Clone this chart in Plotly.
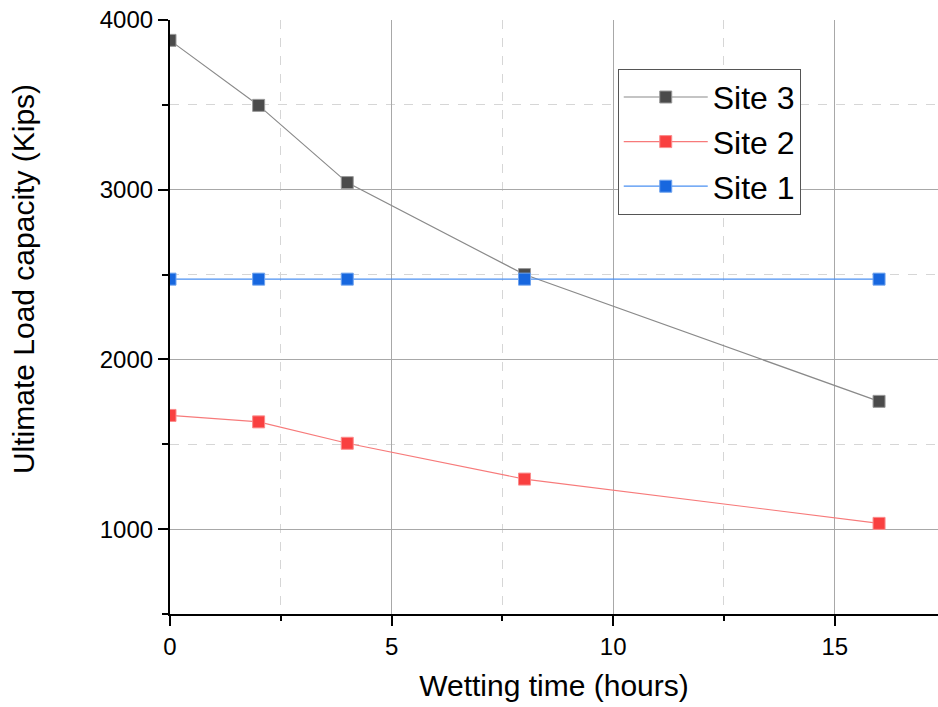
import plotly.graph_objects as go

# Wetting time (hours) and ultimate load capacity (kips) per site
wetting_time = [0, 2, 4, 8, 16]
site3 = [3880, 3497, 3042, 2500, 1753]
site2 = [1670, 1632, 1506, 1295, 1034]
site1 = [2473, 2473, 2473, 2473, 2473]

series = [
    ("Site 3", site3, "#4b4b4b", "#8a8a8a", "#9a9a9a"),
    ("Site 2", site2, "#f94040", "#f77a7a", "#fb8c8c"),
    ("Site 1", site1, "#1767df", "#4b90f2", "#6fa3ee"),
]

FONT = "Arial, Liberation Sans, sans-serif"

fig = go.Figure()
for i, (name, vals, mcol, lcol, edge) in enumerate(series):
    fig.add_trace(go.Scatter(
        x=wetting_time, y=vals, name=name, mode="lines+markers",
        line=dict(color=lcol, width=1.2),
        marker=dict(symbol="square", size=12, color=mcol,
                    line=dict(color=edge, width=1)),
        legendgroup=f"g{i}",
    ))

axis_common = dict(
    showline=True, linecolor="black", linewidth=2.2,
    ticks="outside", ticklen=10, tickwidth=2, tickcolor="black",
    showgrid=True, gridcolor="#a8a8a8", gridwidth=1,
    zeroline=False, mirror=False,
    tickfont=dict(family=FONT, size=24, color="black"),
)

fig.update_xaxes(
    **axis_common,
    range=[0, 17.33], tick0=0, dtick=5,
    minor=dict(dtick=2.5, ticklen=5, tickwidth=2, tickcolor="black",
               ticks="outside", showgrid=True, gridcolor="#d6d6d6",
               griddash="dash", gridwidth=1),
    title=dict(text="Wetting time (hours)",
               font=dict(family=FONT, size=30, color="black"), standoff=16),
)
fig.update_yaxes(
    **axis_common,
    range=[500, 4000],
    tickvals=[1000, 2000, 3000, 4000],
    minor=dict(tickvals=[500, 1500, 2500, 3500], ticklen=6, tickwidth=2,
               tickcolor="black", ticks="outside", showgrid=True,
               gridcolor="#d6d6d6", griddash="dash", gridwidth=1),
)

# Y-axis title placed as a rotated annotation
fig.add_annotation(
    text="Ultimate Load capacity (Kips)",
    xref="paper", yref="paper", x=-0.19, y=0.564,
    xanchor="center", yanchor="middle", textangle=-90, showarrow=False,
    font=dict(family=FONT, size=30, color="black"),
)

fig.update_layout(
    width=938, height=707,
    margin=dict(l=170, r=0, t=20, b=93),
    paper_bgcolor="white", plot_bgcolor="white",
    showlegend=True,
    legend=dict(
        x=0.583, y=0.918, xanchor="left", yanchor="top",
        bgcolor="white", bordercolor="#555555", borderwidth=1,
        font=dict(family=FONT, size=32, color="black"),
        traceorder="grouped", tracegroupgap=0, itemwidth=84,
    ),
)

fig.write_html("out.html")
